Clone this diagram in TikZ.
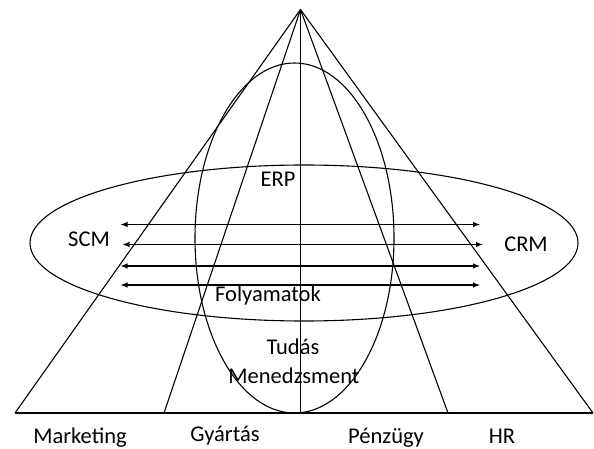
\documentclass[tikz,border=0pt]{standalone}
\usepackage{fontspec}
\setmainfont{Carlito}
\usetikzlibrary{arrows.meta, positioning}

\begin{document}
\begin{tikzpicture}[x=1pt,y=-1pt,line width=1.1pt,
		lbl/.style={font=\fontsize{22.5}{27}\selectfont, inner sep=0pt},
		blbl/.style={lbl, anchor=base},
		flow/.style={{Latex[length=7pt,width=5.5pt]}-{Latex[length=7pt,width=5.5pt]}, line width=1.1pt}]
			\useasboundingbox (0,0) rectangle (594,449);
			% apex and base points
			\coordinate (top) at (300.5,9.5);
			\coordinate (b0) at (15,413);
			\coordinate (b1) at (164,413);
			\coordinate (b2) at (300.5,413);
			\coordinate (b3) at (448,413);
			\coordinate (b4) at (593,413);
			\draw (b0) -- (b4);
			\foreach \b in {b0,b1,b2,b3,b4}
				\draw (top) -- (\b);
			% ellipses
			\draw (294.5,238) ellipse [x radius=99.5, y radius=175];
			\draw (304,243) ellipse [x radius=274, y radius=78];
			% processes
			\coordinate (l1) at (120.5,224.5); \coordinate (r1) at (480,224.5);
			\coordinate (l2) at (122.5,244.5); \coordinate (r2) at (483,244.5);
			\coordinate (l3) at (120.5,266); \coordinate (r3) at (480,266);
			\coordinate (l4) at (120.5,285); \coordinate (r4) at (480,285);
			\foreach \i in {1,...,4}
				\draw[flow] (l\i) -- (r\i);
			% labels
			\node[lbl] (erp) at (278,179) {ERP};
			\node[lbl] (scm) at (89,239) {SCM};
			\node[lbl] (crm) at (526,244) {CRM};
			\node[lbl] (folyamat) at (268,296) {Folyamatok};
			\node[lbl] (tudas) at (293,347) {Tudás};
			\node[lbl] (menedzs) at (294,376) {Menedzsment};
			\node[blbl] (mark) at (80,443) {Marketing};
			\node[blbl] (gyart) at (225,441) {Gyártás};
			\node[blbl] (penz) at (386,443) {Pénzügy};
			\node[blbl] (hr) at (502,443) {HR};
		\end{tikzpicture}
\end{document}
